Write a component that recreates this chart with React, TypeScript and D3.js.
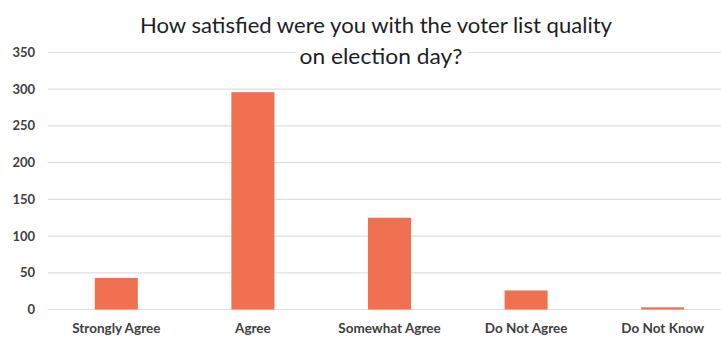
import React, { useEffect } from "react";
import * as d3 from "d3";

const categories = ["Strongly Agree", "Agree", "Somewhat Agree", "Do Not Agree", "Do Not Know"];
const values = [43, 296, 125, 26, 3];
const yTicks = [0, 50, 100, 150, 200, 250, 300, 350];
const titleLines = ["How satisfied were you with the voter list quality", "on election day?"];

const W = 721;
const H = 338;

export default function App() {
  useEffect(() => {
    document.body.style.margin = "0";
  }, []);

  const x = d3.scaleBand<string>().domain(categories).range([48, 731]).paddingInner(0.685).paddingOuter(0.3425);
  const y = d3.scaleLinear().domain([0, 350]).range([309.5, 52.5]);

  const textColor = "#404040";
  const font = "Lato, 'Open Sans', sans-serif";

  return (
    <svg width={W} height={H} style={{ display: "block", background: "#fff" }}>
      {yTicks.map((t) => (
        <g key={t}>
          <line x1={48} x2={W} y1={y(t)} y2={y(t)} stroke="#e3dede" strokeWidth={1.2} />
          <text x={35} y={y(t)} dy="0.35em" textAnchor="end" fontFamily={font} fontWeight={700} fontSize={13} fill={textColor}>
            {t}
          </text>
        </g>
      ))}
      {categories.map((c, i) => (
        <rect key={c} x={x(c)} y={y(values[i])} width={x.bandwidth()} height={y(0) - y(values[i])} fill="#f07050" />
      ))}
      {categories.map((c) => (
        <text key={c} x={(x(c) as number) + x.bandwidth() / 2} y={333} textAnchor="middle" fontFamily={font} fontWeight={700} fontSize={13.5} fill={textColor}>
          {c}
        </text>
      ))}
      <rect x={296} y={44} width={172} height={26} fill="#fff" />
      <text x={376} y={33} textAnchor="middle" fontFamily={font} fontSize={22} fill="#1e1e1e" textLength={472} lengthAdjust="spacingAndGlyphs">
        {titleLines[0]}
      </text>
      <text x={381} y={64} textAnchor="middle" fontFamily={font} fontSize={22} fill="#1e1e1e" textLength={163} lengthAdjust="spacingAndGlyphs">
        {titleLines[1]}
      </text>
    </svg>
  );
}
